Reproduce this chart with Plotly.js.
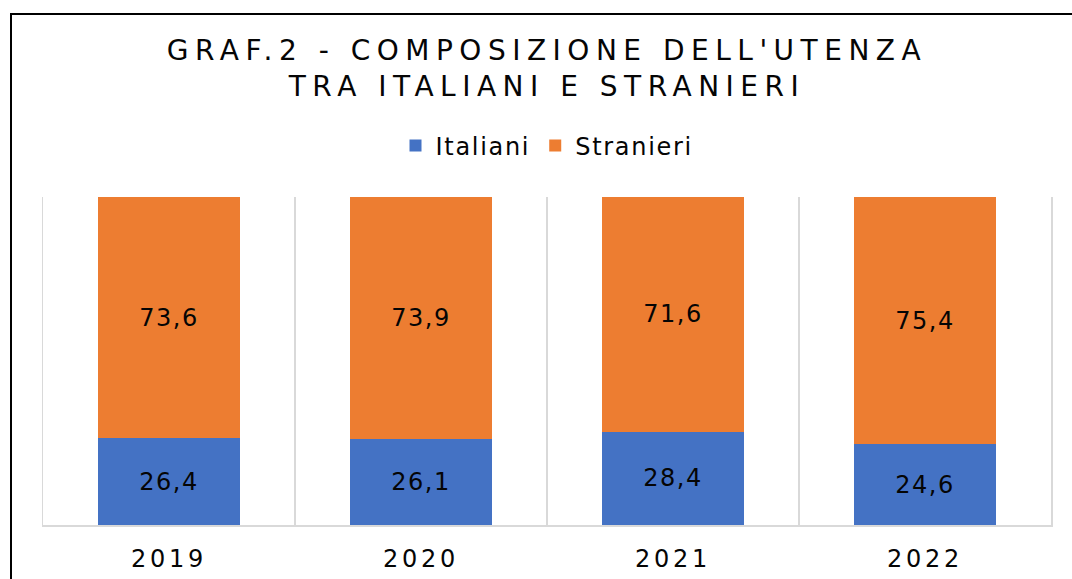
<!DOCTYPE html>
<html>
<head>
<meta charset="utf-8">
<script src="https://cdn.plot.ly/plotly-3.0.1.min.js"></script>
<style>
  html, body { margin: 0; padding: 0; background: #fff; overflow: hidden; }
  #wrap { position: relative; width: 1072px; height: 579px; }
  #frame { position: absolute; left: 10px; top: 13px; width: 1100px; height: 600px; border: 2px solid #000; box-sizing: border-box; pointer-events: none; z-index: 5; }
  #chart { position: absolute; left: 0; top: 0; width: 1072px; height: 579px; }
  .gtitle { letter-spacing: 6.5px; }
  .legendtext { letter-spacing: 1.7px; }
  .bartext { letter-spacing: 1.5px; }
  .xtick text { letter-spacing: 3.7px; }
</style>
</head>
<body>
<div id="wrap">
  <div id="chart"></div>
  <div id="frame"></div>
</div>
<script>
const years = ['2019', '2020', '2021', '2022'];
const italiani = [26.4, 26.1, 28.4, 24.6];
const stranieri = [73.6, 73.9, 71.6, 75.4];

const FONT = 'DejaVu Sans, Verdana, sans-serif';
const TXT = '#050505';

const traces = [
  {
    type: 'bar', name: 'Italiani', x: years, y: italiani,
    marker: { color: '#4472C4' },
    texttemplate: '%{y:.1f}', textposition: 'inside', insidetextanchor: 'middle',
    textfont: { family: FONT, size: 24, color: TXT }, hoverinfo: 'none'
  },
  {
    type: 'bar', name: 'Stranieri', x: years, y: stranieri,
    marker: { color: '#ED7D31' },
    texttemplate: '%{y:.1f}', textposition: 'inside', insidetextanchor: 'middle',
    textfont: { family: FONT, size: 24, color: TXT }, hoverinfo: 'none'
  }
];

const layout = {
  width: 1072, height: 579,
  margin: { l: 43, r: 21, t: 197, b: 54 },
  paper_bgcolor: 'rgba(0,0,0,0)', plot_bgcolor: '#fff',
  separators: ',.',
  barmode: 'stack', bargap: 0.44,
  font: { family: FONT, color: TXT },
  title: {
    text: "GRAF.2 - COMPOSIZIONE DELL'UTENZA<br>TRA ITALIANI E STRANIERI",
    font: { family: FONT, size: 28, color: TXT },
    x: 0.5, xref: 'paper', xanchor: 'center',
    y: 1 - 60 / 579, yref: 'container', yanchor: 'top'
  },
  showlegend: true,
  legend: {
    orientation: 'h', x: 0.5, xanchor: 'center', xref: 'paper',
    y: (525 - 146) / 328, yanchor: 'middle',
    font: { family: FONT, size: 24, color: TXT },
    traceorder: 'normal'
  },
  xaxis: {
    type: 'category', range: [-0.5, 3.5],
    tickson: 'boundaries', showgrid: true, gridcolor: '#D9D9D9', gridwidth: 1.5,
    showline: true, linecolor: '#D9D9D9', linewidth: 1.5,
    ticks: '', ticklabelstandoff: 12,
    tickfont: { family: FONT, size: 24, color: TXT },
    fixedrange: true
  },
  yaxis: {
    range: [0, 100], showgrid: false, zeroline: false,
    showticklabels: false, ticks: '',
    showline: true, mirror: true, linecolor: '#D9D9D9', linewidth: 1.5,
    fixedrange: true
  }
};

Plotly.newPlot('chart', traces, layout, { displayModeBar: false, staticPlot: true });
</script>
</body>
</html>
